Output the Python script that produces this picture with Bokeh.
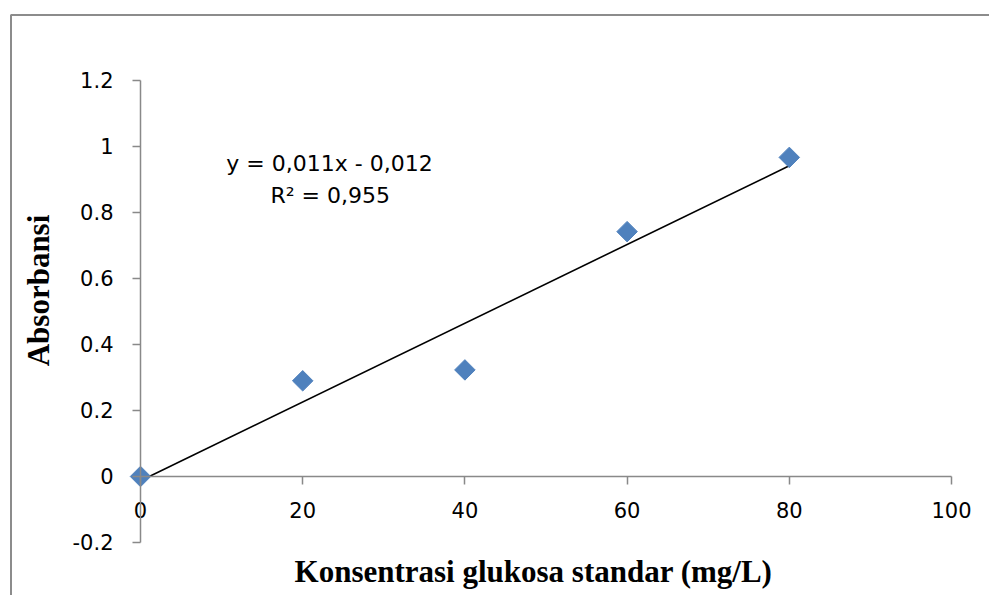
import numpy as np
from bokeh.plotting import figure
from bokeh.models import Range1d, FixedTicker, Label
from bokeh.embed import file_html
from bokeh.resources import INLINE

# ---- data ----
konsentrasi = [0, 20, 40, 60, 80]
absorbansi = [0.0, 0.29, 0.323, 0.742, 0.967]
x_ticks = [0, 20, 40, 60, 80, 100]
x_tick_labels = ["0", "20", "40", "60", "80", "100"]
y_ticks = [-0.2, 0, 0.2, 0.4, 0.6, 0.8, 1.0, 1.2]
y_tick_labels = ["-0.2", "0", "0.2", "0.4", "0.6", "0.8", "1", "1.2"]
equation_text = "y = 0,011x - 0,012"
r2_text = "R\u00b2 = 0,955"
x_label = "Konsentrasi glukosa standar (mg/L)"
y_label = "Absorbansi"

AXIS_COLOR = "#898989"
BORDER_COLOR = "#8c8c8c"
MARKER_COLOR = "#4F81BD"
TICK_FONT = "DejaVu Sans"
LABEL_FONT = "Liberation Serif"

W, H = 989, 595
# ranges chosen so that the whole canvas is the plotting frame
X0, X1 = -17.263, 104.685
Y0, Y1 = -0.36061, 1.44242

p = figure(
    width=W, height=H,
    x_range=Range1d(X0, X1), y_range=Range1d(Y0, Y1),
    output_backend="svg", toolbar_location=None,
    min_border=0, min_border_left=0, min_border_right=0,
    min_border_top=0, min_border_bottom=0,
)
p.grid.visible = False
p.outline_line_color = None
p.background_fill_color = "white"
p.border_fill_color = "white"

for ax, ticks, labels, bounds in ((p.xaxis[0], x_ticks, x_tick_labels, (0, 100)),
                                  (p.yaxis[0], y_ticks, y_tick_labels, (-0.2, 1.2))):
    ax.fixed_location = 0
    ax.bounds = bounds
    ax.ticker = FixedTicker(ticks=ticks)
    ax.major_label_overrides = {t: l for t, l in zip(ticks, labels)}
    ax.axis_line_color = AXIS_COLOR
    ax.axis_line_width = 1.5
    ax.major_tick_line_color = AXIS_COLOR
    ax.major_tick_line_width = 1.5
    ax.major_tick_in = 0
    ax.major_tick_out = 8
    ax.minor_tick_line_color = None
    ax.major_label_text_font = TICK_FONT
    ax.major_label_text_font_size = "21px"
    ax.major_label_text_color = "black"

p.xaxis[0].major_label_standoff = 18
p.yaxis[0].major_label_standoff = 19

# chart-area border (top and left edges)
xpx = (X1 - X0) / W
ypx = (Y1 - Y0) / H
bx = X0 + 10.5 * xpx
by = Y1 - 14.5 * ypx
p.line([bx, bx, X1], [Y0, by, by], line_color=BORDER_COLOR, line_width=2)

# trendline (least squares fit of the data)
slope, intercept = np.polyfit(konsentrasi, absorbansi, 1)
xs = np.array([min(konsentrasi), max(konsentrasi)], dtype=float)
p.line(xs, slope * xs + intercept, line_color="black", line_width=1.6)

p.scatter(konsentrasi, absorbansi, marker="square", angle=np.pi / 4, size=14.5,
          fill_color=MARKER_COLOR, line_color=MARKER_COLOR)

p.add_layout(Label(x=23.3, y=0.948, text=equation_text, text_align="center",
                   text_baseline="middle", text_font=TICK_FONT,
                   text_font_size="22px", text_color="black"))
p.add_layout(Label(x=23.4, y=0.852, text=r2_text, text_align="center",
                   text_baseline="middle", text_font=TICK_FONT,
                   text_font_size="22px", text_color="black"))

p.add_layout(Label(x=48.46, y=-0.288, text=x_label,
                   text_align="center", text_baseline="alphabetic",
                   text_font=LABEL_FONT, text_font_style="bold",
                   text_font_size="31px", text_color="black"))
p.add_layout(Label(x=-12.6, y=0.5636, text=y_label,
                   angle=np.pi / 2, text_align="center", text_baseline="alphabetic",
                   text_font=LABEL_FONT, text_font_style="bold",
                   text_font_size="31px", text_color="black"))

open("out.html", "w").write(file_html(p, INLINE))
